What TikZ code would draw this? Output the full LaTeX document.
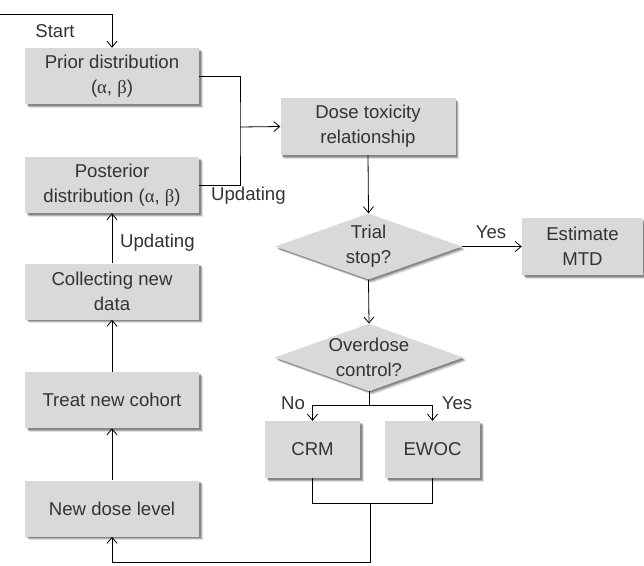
\documentclass[tikz,border=0pt]{standalone}
\usepackage{fontspec}
\setmainfont{Liberation Sans}
\newfontfamily\grk{Liberation Serif}
\usetikzlibrary{shapes.geometric,arrows.meta,shadows,calc}
\definecolor{boxfill}{HTML}{D9D9D9}
\definecolor{txt}{HTML}{333333}
\tikzset{
  base/.style={fill=boxfill, draw=none, text=txt, align=center, inner sep=0pt,
    font=\fontsize{18.6}{25}\selectfont,
    drop shadow={shadow xshift=3.5pt, shadow yshift=-3.5pt, fill=black, opacity=0.12},
    drop shadow={shadow xshift=2.5pt, shadow yshift=-2.5pt, fill=black, opacity=0.2},
    drop shadow={shadow xshift=1.5pt, shadow yshift=-1.5pt, fill=black, opacity=0.25}},
  stepbox/.style={base, rectangle, minimum width=174pt, minimum height=56pt},
  smallbox/.style={base, rectangle, minimum width=95pt, minimum height=57pt},
  decide/.style={base, diamond, minimum width=187pt, minimum height=66pt, aspect=2.8},
  conn/.style={draw=black, line width=0.8pt},
  arr/.style={conn, -{Straight Barb[length=6pt,width=10pt,line width=0.8pt]}},
  lbl/.style={text=txt, inner sep=0pt, font=\fontsize{18.6}{25}\selectfont}
}
\begin{document}
\begin{tikzpicture}[x=1pt,y=-1pt]
\useasboundingbox (0,0) rectangle (644,565);
\node[stepbox] (prior) at (112,76) {Prior distribution\\({\grk α}, {\grk β})};
\node[stepbox] (post) at (112,185) {Posterior\\distribution ({\grk α}, {\grk β})};
\node[stepbox] (collect) at (112,291.5) {Collecting new\\data};
\node[stepbox] (treat) at (112,400) {Treat new cohort};
\node[stepbox] (newdose) at (112,508.5) {New dose level};
\node[stepbox, minimum width=175pt, minimum height=57pt] (dose) at (368,126.5) {Dose toxicity\\relationship};
\node[decide] (trial) at (368.5,246.5) {Trial\\stop?};
\node[smallbox, minimum width=121pt] (est) at (582.5,246.5) {Estimate\\MTD};
\node[decide] (over) at (369,357.5) {Overdose\\control?};
\node[smallbox] (crm) at (312.5,449.5) {CRM};
\node[smallbox] (ewoc) at (432.5,449.5) {EWOC};

\coordinate (s0) at (0,14);
\coordinate (join) at (240,127);
\coordinate (split) at (369,405);
\coordinate (merge) at (370,503);
\coordinate (bottom) at (370,562);

% start
\draw[arr] (s0) -| (prior.north);
\node[lbl] (start) at (55,31) {Start};
% prior/post to dose
\draw[conn] (prior.east) -| (join) |- (post.east);
\draw[arr] (join) -- (dose.west);
\node[lbl, anchor=west] (upd1) at (211,196) {Updating};
% left column
\draw[arr] (collect.north) -- (post.south);
\node[lbl, anchor=west] (upd2) at (120,243) {Updating};
\draw[arr] (treat.north) -- (collect.south);
\draw[arr] (newdose.north) -- (treat.south);
% right column
\draw[arr] (dose.south) -- (trial.north);
\draw[arr] (trial.east) -- (est.west);
\node[lbl] (yes1) at (491,232) {Yes};
\draw[arr] (trial.south) -- (over.north);
\draw[conn] (over.south) -- (split);
\draw[arr] (split) -| (crm.north);
\draw[arr] (split) -| (ewoc.north);
\node[lbl] (no) at (293,403) {No};
\node[lbl] (yes2) at (457,403) {Yes};
\draw[conn] (crm.south) |- (merge) -| (ewoc.south);
\draw[arr] (merge) -- (bottom) -| (newdose.south);
\end{tikzpicture}
\end{document}
